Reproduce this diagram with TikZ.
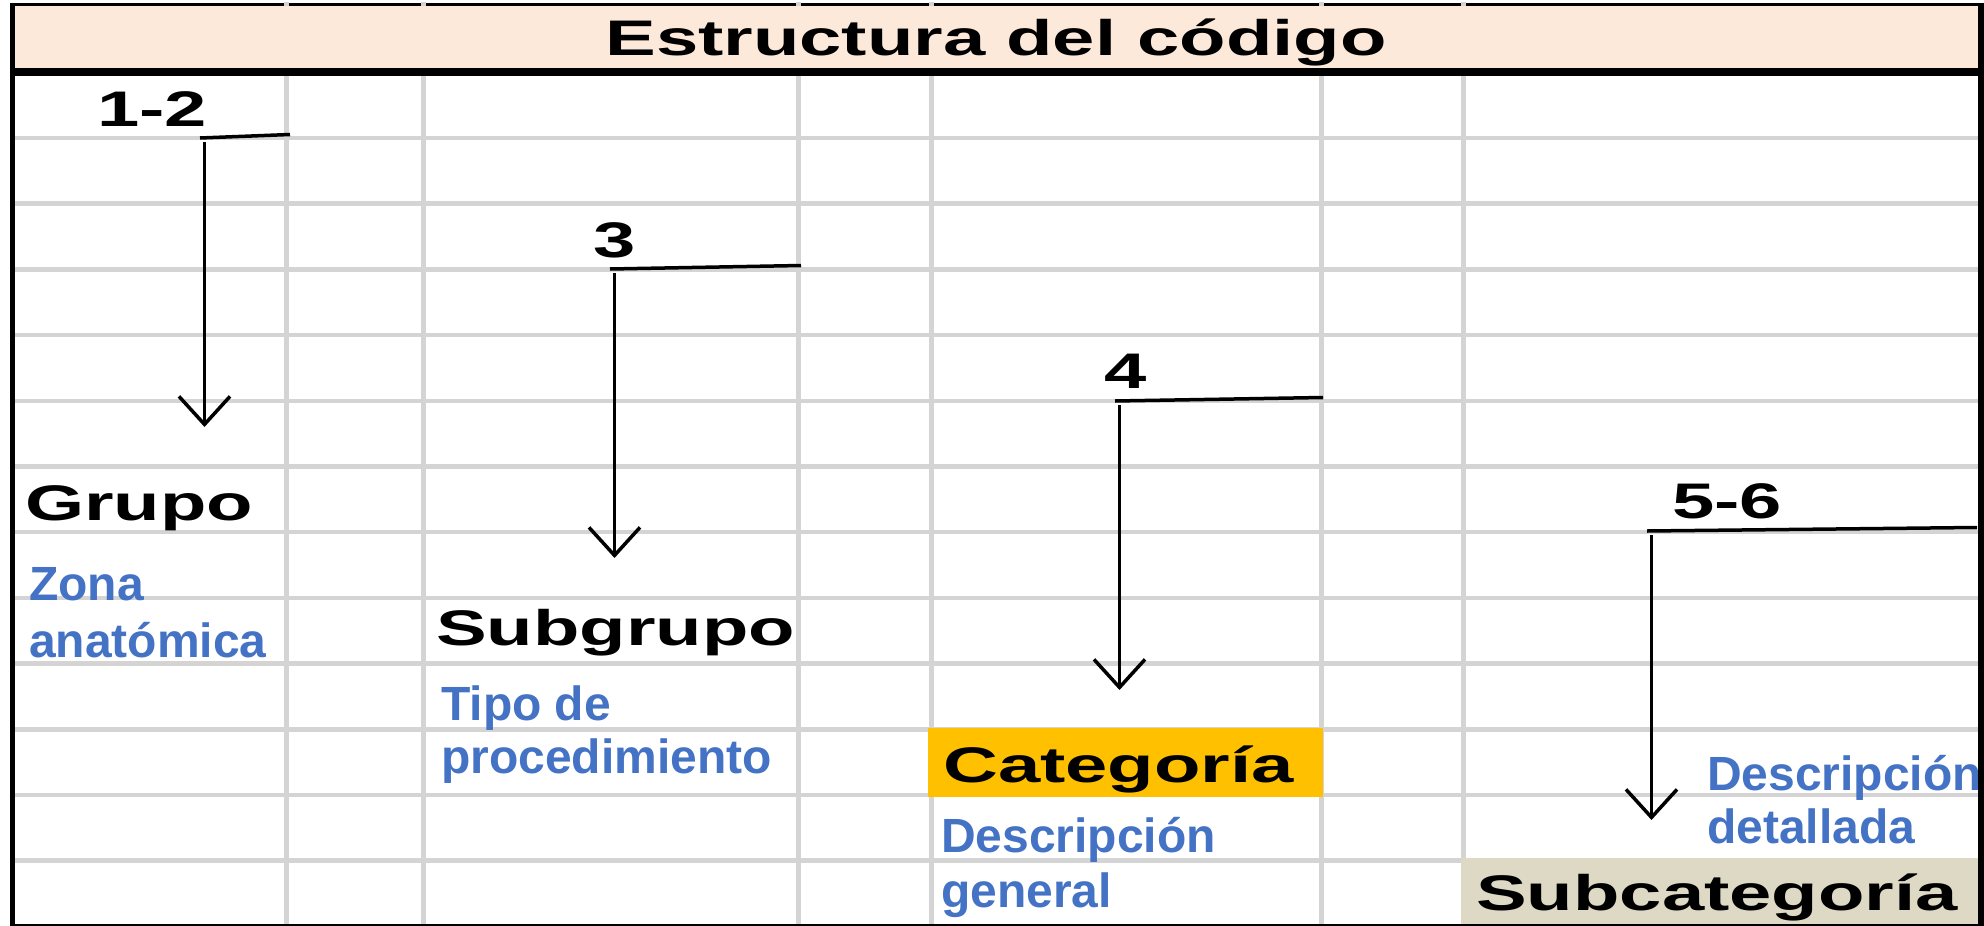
\documentclass[tikz,border=0pt]{standalone}
\usepackage{fontspec}
\setmainfont{Liberation Sans}
\newfontfamily\labelfont[FakeStretch=1.52]{Liberation Sans}
\usetikzlibrary{arrows.meta}
\definecolor{headfill}{HTML}{FCE9DA}
\definecolor{gridgray}{HTML}{D4D4D4}
\definecolor{descblue}{HTML}{4472C4}
\definecolor{catfill}{HTML}{FFC000}
\definecolor{subcatfill}{HTML}{DDD9C4}
\begin{document}
\begin{tikzpicture}
[x=1pt,y=-1pt,
  gridline/.style={draw=gridgray,line width=4.5pt},%
  levelname/.style={anchor=base west,inner sep=0pt,font=\labelfont\bfseries\fontsize{50}{55}\selectfont},%
  leveldesc/.style={anchor=base west,inner sep=0pt,text=descblue,font=\bfseries\fontsize{48}{55}\selectfont},%
  bardecorate/.style={line width=3.5pt},%
  arrowdecorate/.style={line width=3.5pt,-{Straight Barb[length=28pt,width=51pt]}}]
\useasboundingbox (0,0) rectangle (1984,926);
\fill[white] (0,0) rectangle (1984,926);
%% table frame and grid
\draw[line width=3pt] (10,4.5) -- (1984,4.5);
\foreach \k in {0,...,11} {
  \draw[gridline] (15,138+65.7*\k) -- (1978,138+65.7*\k);
}
\foreach \x in {286,423,798,931,1321,1463} {
  \draw[gridline,line width=5pt] (\x,2) -- (\x,925);
}
\fill[headfill] (12,6) rectangle (1978,68);
\draw[line width=8pt] (10,72) -- (1984,72);
\fill[catfill] (928,728) rectangle (1323,797);
\fill[subcatfill] (1461,858) rectangle (1978,926);
%% title
\node (title) at (996,55) [levelname,anchor=base] {Estructura del código};
%% level names and digits
\foreach \nodename/\x/\y/\txt in {grupo/25/520/Grupo, subgrupo/436/645/Subgrupo, categoria/943/782/Categoría, subcategoria/1476/910/Subcategoría, d12/97/126/1-2, d3/593/257/3, d4/1104/388/4, d56/1672/518/5-6} {
  \node (\nodename) at (\x,\y) [levelname] {\txt};
}
%% descriptions
\foreach \nodename/\x/\y/\txt in {zona/29/600/Zona, zonab/29/657/anatómica, tipo/441/720/Tipo de, tipob/441/773/procedimiento, descgen/941/852/Descripción, descgenb/941/907/general, descdet/1707/790/Descripción, descdetb/1707/843/detallada} {
  \node (\nodename) at (\x,\y) [leveldesc] {\txt};
}
%% bars and arrows
\foreach \stepname/\xl/\xr/\yb in {a/200/290/138, b/610/801/269, c/1115/1323/401, d/1647/1977/531} {
  \coordinate (\stepname-l) at (\xl,\yb);
  \coordinate (\stepname-r) at (\xr,\yb-3.5);
  \coordinate (\stepname-s) at (\xl+4.5,\yb+4);
  \coordinate (\stepname-t) at (\xl+4.5,\yb+289);
  \draw[bardecorate] (\stepname-l) -- (\stepname-r);
  \draw[arrowdecorate] (\stepname-s) -- (\stepname-t);
}
%% outer border
\draw[line width=5pt] (12.5,3) -- (12.5,926);
\draw[line width=6pt] (1981,3) -- (1981,926);
\draw[line width=2pt] (10,925) -- (1984,925);
\end{tikzpicture}
\end{document}
